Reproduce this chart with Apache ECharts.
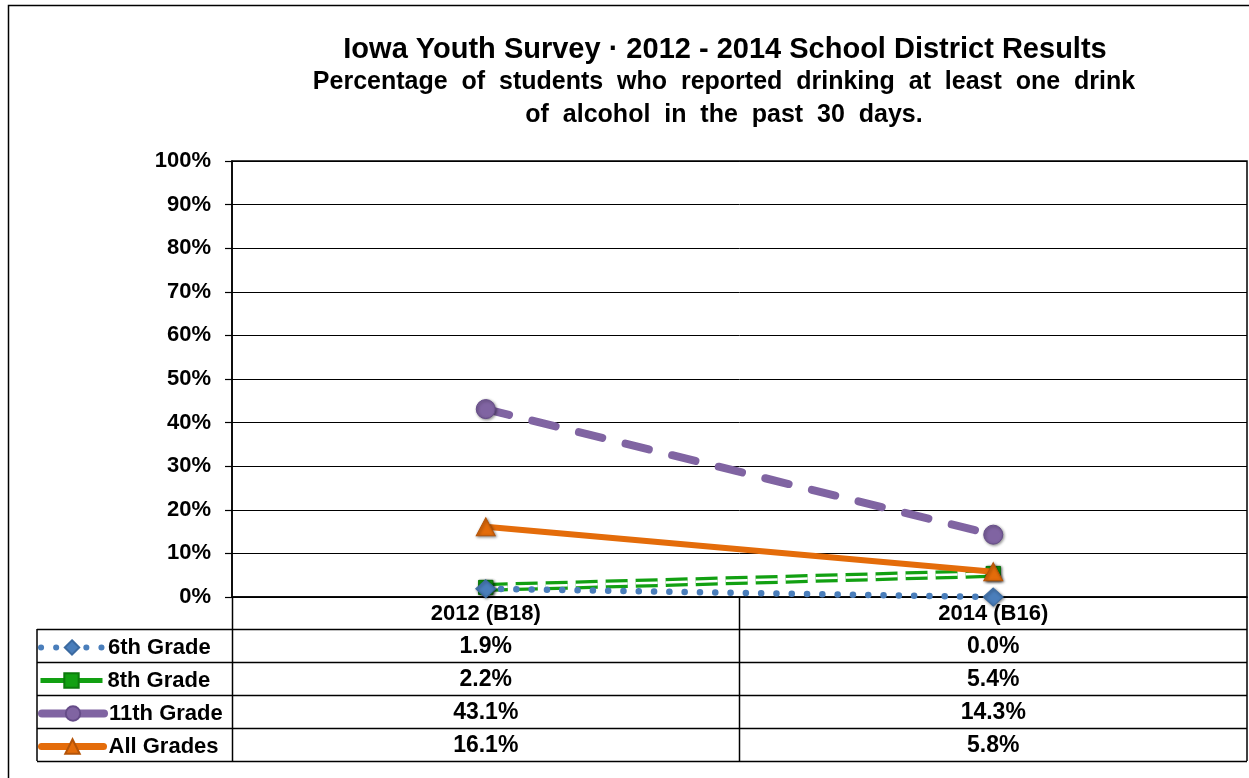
<!DOCTYPE html>
<html><head><meta charset="utf-8">
<script src="https://cdn.jsdelivr.net/npm/echarts@6/dist/echarts.min.js"></script>
<style>html,body{margin:0;padding:0;background:#fff}#c{width:1249px;height:778px}</style>
</head><body><div id="c"></div>
<script>
const categories = ['2012 (B18)', '2014 (B16)'];
const grade6 = [1.9, 0.0];
const grade8 = [2.2, 5.4];
const grade11 = [43.1, 14.3];
const allGrades = [16.1, 5.8];
const seriesNames = ['6th Grade', '8th Grade', '11th Grade', 'All Grades'];
const yTicks = [0, 10, 20, 30, 40, 50, 60, 70, 80, 90, 100];

const FONT = '"Liberation Sans", Arial, Helvetica, sans-serif';
const G = {left: 232, right: 1247, top: 161, bottom: 597};
const rowY = [597, 629, 662, 695, 728, 761];
const tableLeft = 37;
const midX = (G.left + G.right) / 2;

const chart = echarts.init(document.getElementById('c'), null, {renderer: 'canvas'});

const shadow = {shadowBlur: 3, shadowColor: 'rgba(0,0,0,0.45)', shadowOffsetX: 1, shadowOffsetY: 1};
const BLUE = '#4a7ebb', GREEN = '#12a012', PURPLE = '#8064a2', ORANGE = '#e46c0a';

const seriesData = [grade6, grade8, grade11, allGrades];
const legendLines = [
  {color: BLUE, width: 6, type: [0.1, 15], cap: 'round'},
  {color: GREEN, width: 5, type: 'solid'},
  {color: PURPLE, width: 8, type: 'solid', cap: 'round'},
  {color: ORANGE, width: 7, type: 'solid', cap: 'round'}
];

const graphics = [];
graphics.push({type: 'polyline', shape: {points: [[8.5, 800], [8.5, 5.5], [1260, 5.5]]}, style: {stroke: '#000', lineWidth: 1.5, fill: null}, silent: true});
graphics.push({type: 'line', shape: {x1: G.left + 0.5, y1: rowY[0], x2: G.left + 0.5, y2: rowY[5]}, style: {stroke: '#000', lineWidth: 1.5}, silent: true});
graphics.push({type: 'line', shape: {x1: midX, y1: rowY[0], x2: midX, y2: rowY[5]}, style: {stroke: '#000', lineWidth: 1.5}, silent: true});
graphics.push({type: 'line', shape: {x1: G.right, y1: rowY[0], x2: G.right, y2: rowY[5]}, style: {stroke: '#000', lineWidth: 1.5}, silent: true});
graphics.push({type: 'line', shape: {x1: tableLeft, y1: rowY[1], x2: tableLeft, y2: rowY[5]}, style: {stroke: '#000', lineWidth: 1.5}, silent: true});
for (let i = 1; i < rowY.length; i++) {
  graphics.push({type: 'line', shape: {x1: tableLeft, y1: rowY[i] + 0.5, x2: G.right, y2: rowY[i] + 0.5}, style: {stroke: '#000', lineWidth: 1.5}, silent: true});
}
const colCenters = [(G.left + midX) / 2, (midX + G.right) / 2];
categories.forEach((c, j) => {
  graphics.push({type: 'text', x: colCenters[j], y: (rowY[0] + rowY[1]) / 2 + 1, style: {text: c, font: 'bold 22px ' + FONT, fill: '#000', align: 'center', verticalAlign: 'middle'}, silent: true});
});
seriesData.forEach((arr, i) => {
  arr.forEach((v, j) => {
    graphics.push({type: 'text', x: colCenters[j], y: (rowY[i + 1] + rowY[i + 2]) / 2 + 1, style: {text: v.toFixed(1) + '%', font: 'bold 23px ' + FONT, fill: '#000', align: 'center', verticalAlign: 'middle'}, silent: true});
  });
});

const legends = seriesNames.map((n, i) => ({
  data: [n],
  left: 38,
  top: (rowY[i + 1] + rowY[i + 2]) / 2 - 9,
  itemWidth: 62,
  itemHeight: 18,
  padding: 0,
  selectedMode: false,
  lineStyle: legendLines[i],
  textStyle: {fontFamily: FONT, fontWeight: 'bold', fontSize: 22, color: '#000'}
}));

const option = {
  animation: false,
  backgroundColor: '#fff',
  title: [
    {text: 'Iowa Youth Survey · 2012 - 2014 School District Results', left: 720, top: 30, textAlign: 'center',
     textStyle: {fontFamily: FONT, fontWeight: 'bold', fontSize: 29, color: '#000'}},
    {text: 'Percentage  of  students  who  reported  drinking  at  least  one  drink\nof  alcohol  in  the  past  30  days.', left: 719, top: 61, textAlign: 'center',
     textStyle: {fontFamily: FONT, fontWeight: 'bold', fontSize: 25, color: '#000', lineHeight: 33, align: 'center'}}
  ],
  legend: legends,
  grid: {left: G.left, top: G.top, width: G.right - G.left, height: G.bottom - G.top, show: true, borderColor: '#000', borderWidth: 1.5, containLabel: false},
  xAxis: {
    type: 'category', data: categories, boundaryGap: true,
    axisLine: {lineStyle: {color: '#000', width: 1.5}},
    axisTick: {show: false},
    axisLabel: {show: false}
  },
  yAxis: {
    type: 'value', min: yTicks[0], max: yTicks[yTicks.length - 1], interval: 10,
    axisLine: {show: true, lineStyle: {color: '#000', width: 1.5}},
    axisTick: {show: true, length: 7, lineStyle: {color: '#000', width: 1.2}},
    splitLine: {lineStyle: {color: '#000', width: 1}},
    axisLabel: {formatter: '{value}%', margin: 21, fontFamily: FONT, fontWeight: 'bold', fontSize: 22, color: '#000'}
  },
  graphic: graphics,
  series: [
    {name: '8th Grade', type: 'line', data: grade8, z: 2, symbol: 'rect', symbolSize: 14,
     lineStyle: {color: GREEN, width: 9, type: [22, 8]},
     itemStyle: Object.assign({color: GREEN, borderColor: '#0b7a0b', borderWidth: 1}, shadow)},
    {name: '8th inner', type: 'line', data: grade8, z: 2, showSymbol: false, silent: true,
     lineStyle: {color: '#fff', width: 2.5, type: [22, 8]}},
    {name: '8th marks', type: 'line', data: grade8, z: 2, symbol: 'rect', symbolSize: 14, silent: true,
     lineStyle: {width: 0, opacity: 0},
     itemStyle: Object.assign({color: GREEN, borderColor: '#0b7a0b', borderWidth: 1}, shadow)},
    {name: '6th Grade', type: 'line', data: grade6, z: 3, symbol: 'diamond', symbolSize: [20, 18],
     lineStyle: {color: BLUE, width: 6.5, type: [0.1, 15.2], cap: 'round'},
     itemStyle: Object.assign({color: BLUE, borderColor: '#3b6aa0', borderWidth: 1}, shadow)},
    {name: '11th Grade', type: 'line', data: grade11, z: 3, symbol: 'circle', symbolSize: 19,
     lineStyle: {color: PURPLE, width: 8, type: [24, 24], cap: 'round'},
     itemStyle: Object.assign({color: PURPLE, borderColor: '#654c88', borderWidth: 1}, shadow)},
    {name: 'All Grades', type: 'line', data: allGrades, z: 3, symbol: 'triangle', symbolSize: [19, 18],
     lineStyle: {color: ORANGE, width: 6},
     itemStyle: Object.assign({color: ORANGE, borderColor: '#b55408', borderWidth: 1}, shadow)}
  ]
};
chart.setOption(option);
</script>
</body></html>
